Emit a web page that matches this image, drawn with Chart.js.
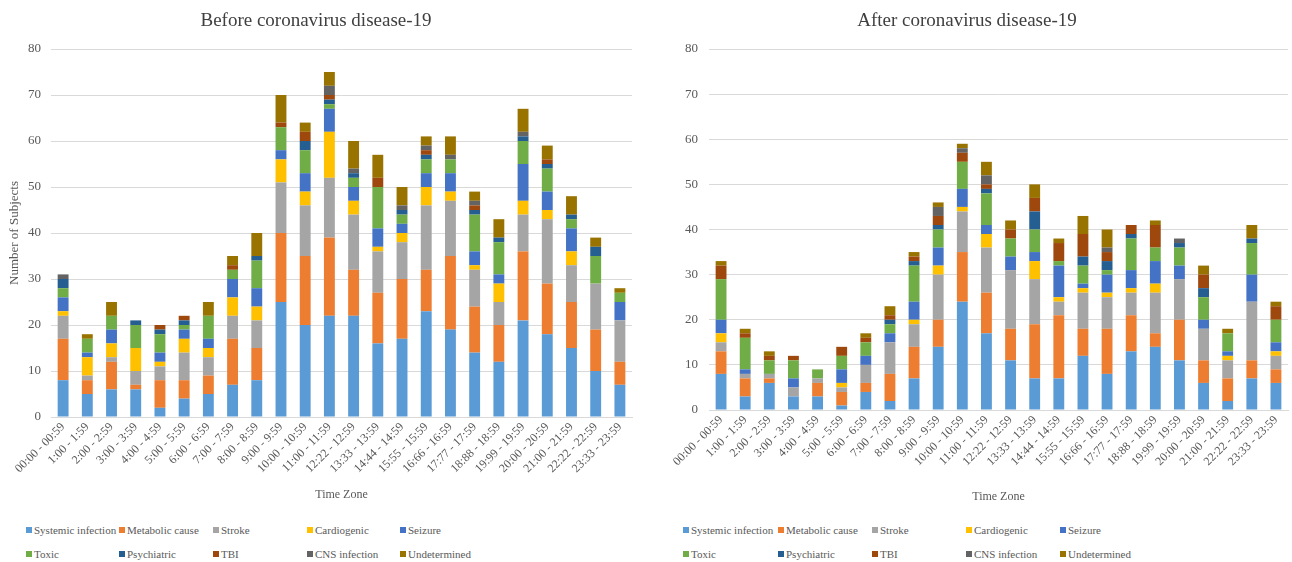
<!DOCTYPE html>
<html>
<head>
<meta charset="utf-8">
<script src="https://cdn.jsdelivr.net/npm/chart.js@4"></script>
<style>
  html, body { margin: 0; padding: 0; background: #ffffff; }
  #page { position: relative; width: 1292px; height: 562px; overflow: hidden; background: #ffffff; }
  .panel { position: absolute; top: 0; width: 646px; height: 512px; }
  .legend-item { position: absolute; font-family: "Liberation Serif", "Times New Roman", serif; font-size: 11px; color: #595959; white-space: nowrap; line-height: 14px; }
  .legend-box { display: inline-block; width: 6px; height: 6px; margin-right: 2px; vertical-align: 1px; }
</style>
</head>
<body>
<div id="page">
  <div class="panel" style="left:0px;"><canvas id="before" width="646" height="512"></canvas></div>
  <div class="panel" style="left:646px;"><canvas id="after" width="646" height="512"></canvas></div>
</div>
<script>
// Hourly time zones (category axis)
const timeZones = [
  "00:00 - 00:59", "1:00 - 1:59", "2:00 - 2:59", "3:00 - 3:59", "4:00 - 4:59", "5:00 - 5:59",
  "6:00 - 6:59", "7:00 - 7:59", "8:00 - 8:59", "9:00 - 9:59", "10:00 - 10:59", "11:00 - 11:59",
  "12:22 - 12:59", "13:33 - 13:59", "14:44 - 14:59", "15:55 - 15:59", "16:66 - 16:59", "17:77 - 17:59",
  "18:88 - 18:59", "19:99 - 19:59", "20:00 - 20:59", "21:00 - 21:59", "22:22 - 22:59", "23:33 - 23:59"
];

// Etiologies, in stacking order from the bottom
const causes = ["Systemic infection", "Metabolic cause", "Stroke", "Cardiogenic", "Seizure",
                "Toxic", "Psychiatric", "TBI", "CNS infection", "Undetermined"];
const causeColors = ["#5B9BD5", "#ED7D31", "#A5A5A5", "#FFC000", "#4472C4",
                     "#70AD47", "#255E91", "#9E480E", "#636363", "#997300"];

// Y axis
const yMin = 0, yMax = 80, yStep = 10;

// Before coronavirus disease-19: number of subjects per cause
const beforeSystemic   = [8, 5, 6, 6, 2, 4, 5, 7, 8, 25, 20, 22, 22, 16, 17, 23, 19, 14, 12, 21, 18, 15, 10, 7];
const beforeMetabolic  = [9, 3, 6, 1, 6, 4, 4, 10, 7, 15, 15, 17, 10, 11, 13, 9, 16, 10, 8, 15, 11, 10, 9, 5];
const beforeStroke     = [5, 1, 1, 3, 3, 6, 4, 5, 6, 11, 11, 13, 12, 9, 8, 14, 12, 8, 5, 8, 14, 8, 10, 9];
const beforeCardio     = [1, 4, 3, 5, 1, 3, 2, 4, 3, 5, 3, 10, 3, 1, 2, 4, 2, 1, 4, 3, 2, 3, 0, 0];
const beforeSeizure    = [3, 1, 3, 0, 2, 2, 2, 4, 4, 2, 4, 5, 3, 4, 2, 3, 4, 3, 2, 8, 4, 5, 0, 4];
const beforeToxic      = [2, 3, 3, 5, 4, 1, 5, 2, 6, 5, 5, 1, 2, 9, 2, 3, 3, 8, 7, 5, 5, 2, 6, 2];
const beforePsych      = [2, 0, 0, 1, 1, 1, 0, 0, 1, 0, 2, 1, 1, 0, 1, 1, 0, 1, 1, 1, 1, 1, 2, 0];
const beforeTBI        = [0, 0, 0, 0, 1, 1, 0, 1, 0, 1, 2, 1, 0, 2, 0, 1, 0, 1, 0, 0, 1, 0, 0, 0];
const beforeCNS        = [1, 0, 0, 0, 0, 0, 0, 0, 0, 0, 0, 2, 1, 0, 1, 1, 1, 1, 0, 1, 0, 0, 0, 0];
const beforeUndet      = [0, 1, 3, 0, 0, 0, 3, 2, 5, 6, 2, 3, 6, 5, 4, 2, 4, 2, 4, 5, 3, 4, 2, 1];

// After coronavirus disease-19: number of subjects per cause
const afterSystemic    = [8, 3, 6, 3, 3, 1, 4, 2, 7, 14, 24, 17, 11, 7, 7, 12, 8, 13, 14, 11, 6, 2, 7, 6];
const afterMetabolic   = [5, 4, 1, 0, 3, 3, 2, 6, 7, 6, 11, 9, 7, 12, 14, 6, 10, 8, 3, 9, 5, 5, 4, 3];
const afterStroke      = [2, 1, 1, 2, 1, 1, 4, 7, 5, 10, 9, 10, 13, 10, 3, 8, 7, 5, 9, 9, 7, 4, 13, 3];
const afterCardio      = [2, 0, 0, 0, 0, 1, 0, 0, 1, 2, 1, 3, 0, 4, 1, 1, 1, 1, 2, 0, 0, 1, 0, 1];
const afterSeizure     = [3, 1, 0, 2, 0, 3, 2, 2, 4, 4, 4, 2, 3, 2, 7, 1, 4, 4, 5, 3, 2, 1, 6, 2];
const afterToxic       = [9, 7, 3, 4, 2, 3, 3, 2, 8, 4, 6, 7, 4, 5, 1, 4, 1, 7, 3, 4, 5, 4, 7, 5];
const afterPsych       = [0, 0, 0, 0, 0, 0, 0, 1, 1, 1, 0, 1, 0, 4, 0, 2, 2, 1, 0, 1, 2, 0, 1, 0];
const afterTBI         = [3, 1, 1, 1, 0, 2, 1, 1, 1, 2, 2, 1, 2, 3, 4, 5, 2, 2, 5, 0, 3, 0, 0, 3];
const afterCNS         = [0, 0, 0, 0, 0, 0, 0, 0, 0, 2, 1, 2, 0, 0, 0, 0, 1, 0, 0, 1, 0, 0, 0, 0];
const afterUndet       = [1, 1, 1, 0, 0, 0, 1, 2, 1, 1, 1, 3, 2, 3, 1, 4, 4, 0, 1, 0, 2, 1, 3, 1];

const beforeSeries = [beforeSystemic, beforeMetabolic, beforeStroke, beforeCardio, beforeSeizure,
                      beforeToxic, beforePsych, beforeTBI, beforeCNS, beforeUndet];
const afterSeries  = [afterSystemic, afterMetabolic, afterStroke, afterCardio, afterSeizure,
                      afterToxic, afterPsych, afterTBI, afterCNS, afterUndet];

const SERIF = '"Liberation Serif", "Times New Roman", serif';
const TEXT = "#595959";
const GRID = "#D9D9D9";

function buildDatasets(series) {
  return series.map((values, i) => ({
    label: causes[i],
    data: values,
    backgroundColor: causeColors[i],
    borderWidth: 0,
    barPercentage: 0.45,
    categoryPercentage: 1.0
  }));
}

function makeChart(canvasId, title, series, opts) {
  return new Chart(document.getElementById(canvasId), {
    type: "bar",
    data: { labels: timeZones, datasets: buildDatasets(series) },
    options: {
      responsive: false,
      animation: false,
      devicePixelRatio: 1,
      layout: { padding: { left: 0, right: opts.padRight, top: 0, bottom: 0 } },
      plugins: {
        legend: { display: false },
        tooltip: { enabled: false },
        title: {
          display: true,
          text: title,
          color: "#404040",
          font: { family: SERIF, size: 19, weight: "normal" },
          padding: { top: 10, bottom: 16.2 }
        }
      },
      scales: {
        x: {
          stacked: true,
          grid: { display: false, drawTicks: false },
          border: { display: true, color: GRID, width: 1 },
          ticks: {
            autoSkip: false,
            minRotation: 45,
            maxRotation: 45,
            padding: 3,
            color: TEXT,
            font: { family: SERIF, size: 12 }
          },
          title: {
            display: true,
            text: "Time Zone",
            color: TEXT,
            font: { family: SERIF, size: 12 },
            padding: { top: 0, bottom: opts.xTitlePad }
          },
          afterFit: (scale) => { scale.height = opts.xHeight; }
        },
        y: {
          stacked: true,
          min: yMin,
          max: yMax,
          grid: { color: GRID, lineWidth: 1, drawTicks: false },
          border: { display: false },
          ticks: {
            stepSize: yStep,
            padding: opts.yTickPad,
            color: TEXT,
            font: { family: SERIF, size: 13 }
          },
          title: {
            display: opts.yTitle,
            text: "Number of Subjects",
            color: TEXT,
            font: { family: SERIF, size: 13 },
            padding: { top: 7, bottom: 0 }
          },
          afterFit: (scale) => { scale.width = opts.yWidth; }
        }
      }
    }
  });
}

makeChart("before", "Before coronavirus disease-19", beforeSeries,
  { padRight: 14, xHeight: 95, xTitlePad: 10, yWidth: 51, yTickPad: 10, yTitle: true });
makeChart("after", "After coronavirus disease-19", afterSeries,
  { padRight: 4, xHeight: 102, xTitlePad: 8, yWidth: 63, yTickPad: 11, yTitle: false });

// Two-row legends beneath each panel
function buildLegend(originX, colX, rowY) {
  const page = document.getElementById("page");
  causes.forEach((name, i) => {
    const item = document.createElement("div");
    item.className = "legend-item";
    item.style.left = (originX + colX[i % 5]) + "px";
    item.style.top = (rowY[Math.floor(i / 5)] - 7) + "px";
    const box = document.createElement("span");
    box.className = "legend-box";
    box.style.background = causeColors[i];
    item.appendChild(box);
    item.appendChild(document.createTextNode(name));
    page.appendChild(item);
  });
}
buildLegend(0, [26, 119, 213, 307, 400], [530, 554]);
buildLegend(646, [37, 132, 226, 320, 414], [530, 554]);
</script>
</body>
</html>
